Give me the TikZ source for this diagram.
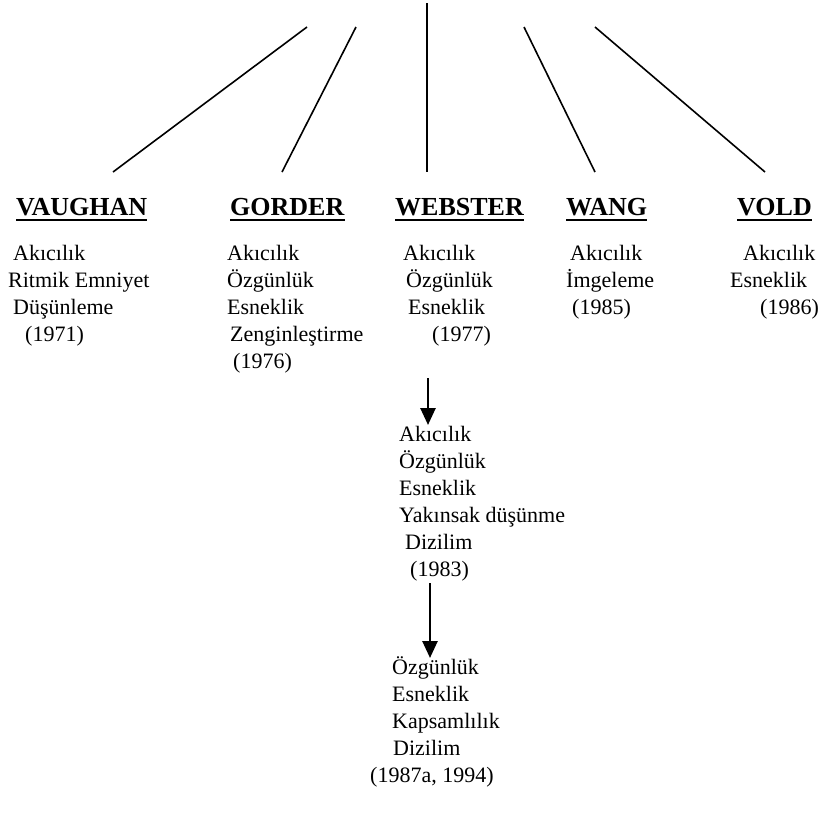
\documentclass[tikz,border=0pt]{standalone}
\usepackage{fontspec}
\setmainfont{Liberation Serif}
\usetikzlibrary{arrows.meta}

\begin{document}
\begin{tikzpicture}[x=1pt,y=-1pt,
  head/.style={inner sep=0pt,anchor=base west,font=\fontsize{26}{30}\selectfont\bfseries},
  items/.style={inner sep=0pt,anchor=north west,align=left,font=\fontsize{22}{27}\selectfont},
  uline/.style={line width=2pt},
  arr/.style={-{Triangle[width=15pt,length=17pt]},line width=2.6pt}]

  \useasboundingbox (0,0) rectangle (832,820);

  % the five names
  \node[head] (vaughan) at (16,215) {VAUGHAN};
  \node[head] (gorder) at (230,215) {GORDER};
  \node[head] (webster) at (395,215) {WEBSTER};
  \node[head] (wang) at (566,215) {WANG};
  \node[head] (vold) at (737,215) {VOLD};
  \foreach \n in {vaughan,gorder,webster,wang,vold}
    \draw[uline] ([yshift=-5pt]\n.base west) -- ([yshift=-5pt]\n.base east);

  % lists under the names
  \node[items] (vaughanlist) at (8,241) {\strut\hspace*{5pt}Akıcılık\\Ritmik Emniyet\\\hspace*{5pt}Düşünleme\\\hspace*{17pt}(1971)};
  \node[items] (gorderlist) at (227,241) {\strut Akıcılık\\Özgünlük\\Esneklik\\\hspace*{3pt}Zenginleştirme\\\hspace*{6pt}(1976)};
  \node[items] (websterlist) at (403,241) {\strut Akıcılık\\\hspace*{3pt}Özgünlük\\\hspace*{5pt}Esneklik\\\hspace*{29pt}(1977)};
  \node[items] (wanglist) at (566,241) {\strut\hspace*{4pt}Akıcılık\\İmgeleme\\\hspace*{6pt}(1985)};
  \node[items] (voldlist) at (730,241) {\strut\hspace*{13pt}Akıcılık\\Esneklik\\\hspace*{30pt}(1986)};

  % Webster's later lists
  \node[items] (list83) at (399,422) {\strut Akıcılık\\Özgünlük\\Esneklik\\Yakınsak düşünme\\\hspace*{6pt}Dizilim\\\hspace*{11pt}(1983)};
  \node[items] (list94) at (370,655) {\strut\hspace*{22pt}Özgünlük\\\hspace*{22pt}Esneklik\\\hspace*{22pt}Kapsamlılık\\\hspace*{23pt}Dizilim\\(1987a, 1994)};

  % lines from the top
  \coordinate (top1) at (307,27);
  \coordinate (top2) at (356,27);
  \coordinate (top3) at (427,3);
  \coordinate (top4) at (524,27);
  \coordinate (top5) at (595,27);
  \coordinate (end1) at (113,172);
  \coordinate (end2) at (282,172);
  \coordinate (end3) at (427,172);
  \coordinate (end4) at (595,172);
  \coordinate (end5) at (765,172);
  \path[line width=1.6pt]
    (top1) edge (end1)
    (top2) edge (end2)
    (top3) edge (end3)
    (top4) edge (end4)
    (top5) edge (end5);

  % arrows down
  \coordinate (from77) at (428,378);
  \coordinate (from83) at (430,583);
  \draw[arr] (from77) -- ([yshift=-3pt]from77 |- list83.north);
  \draw[arr] (from83) -- ([yshift=-3pt]from83 |- list94.north);
\end{tikzpicture}
\end{document}
